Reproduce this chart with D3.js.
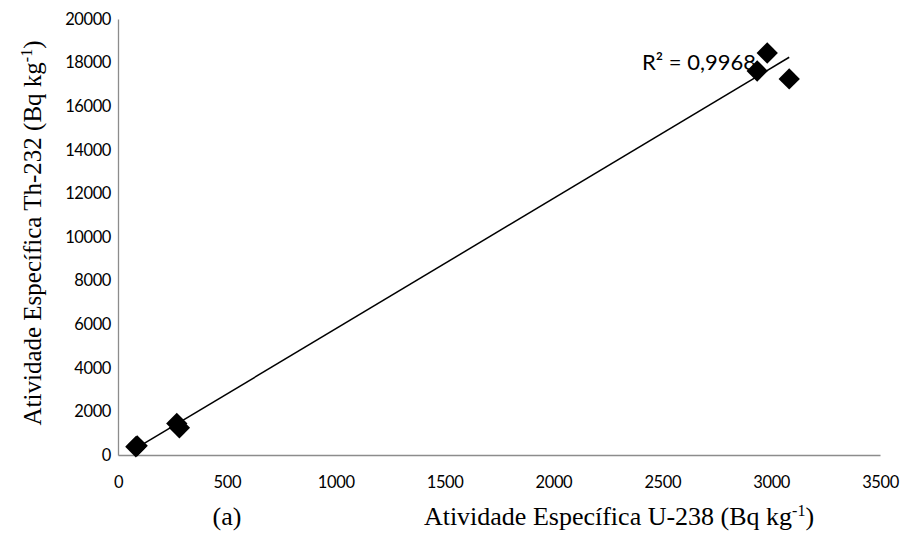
<!DOCTYPE html>
<html>
<head>
<meta charset="utf-8">
<script src="https://cdn.jsdelivr.net/npm/d3@7/dist/d3.min.js"></script>
<style>
  html, body { margin: 0; padding: 0; background: #fff; }
  svg { display: block; }
</style>
</head>
<body>
<svg id="chart" width="908" height="540"></svg>
<script>
// U-238 vs Th-232 specific activity (Bq/kg) per sample
const u238 = [82, 88, 270, 282, 2936, 2982, 3083];
const th232 = [380, 420, 1450, 1250, 17615, 18440, 17250];
const xTicks = [0, 500, 1000, 1500, 2000, 2500, 3000, 3500];
const yTicks = [0, 2000, 4000, 6000, 8000, 10000, 12000, 14000, 16000, 18000, 20000];
const r2Label = "R² = 0,9968";

const svg = d3.select("#chart");
const margin = { left: 118, right: 28, top: 19, bottom: 85 };
const W = 908, H = 540;

const x = d3.scaleLinear().domain([0, 3500]).range([margin.left, W - margin.right]);
const y = d3.scaleLinear().domain([0, 20000]).range([H - margin.bottom, margin.top]);

const tickFont = "Lato, 'Open Sans', sans-serif";
const serif = "'Liberation Serif', 'Times New Roman', serif";

// x axis
const gx = svg.append("g").attr("transform", `translate(0,${y(0)})`)
  .call(d3.axisBottom(x).tickValues(xTicks).tickSize(0).tickPadding(21).tickFormat(d3.format("d")));
gx.select(".domain").attr("stroke", "#8c8c8c").attr("stroke-width", 1.3);
gx.selectAll("text").attr("font-family", tickFont).attr("font-size", 16.5)
  .attr("letter-spacing", -0.4).attr("fill", "#000");

// y axis
const gy = svg.append("g").attr("transform", `translate(${x(0)},0)`)
  .call(d3.axisLeft(y).tickValues(yTicks).tickSize(0).tickPadding(7).tickFormat(d3.format("d")));
gy.select(".domain").attr("stroke", "#8c8c8c").attr("stroke-width", 1.3);
gy.selectAll("text").attr("font-family", tickFont).attr("font-size", 16.5)
  .attr("letter-spacing", -0.4).attr("fill", "#000");

// least-squares linear trendline across the data range
const n = u238.length;
const mx = d3.mean(u238), my = d3.mean(th232);
let sxy = 0, sxx = 0;
for (let i = 0; i < n; i++) { sxy += (u238[i] - mx) * (th232[i] - my); sxx += (u238[i] - mx) ** 2; }
const slope = sxy / sxx, icpt = my - slope * mx;
const x0 = d3.min(u238), x1 = d3.max(u238);
svg.append("line")
  .attr("x1", x(x0)).attr("y1", y(slope * x0 + icpt))
  .attr("x2", x(x1)).attr("y2", y(slope * x1 + icpt))
  .attr("stroke", "#000").attr("stroke-width", 1.5);

// diamond markers
const diamond = d3.symbol().type(d3.symbolDiamond2).size(290);
svg.append("g").selectAll("path")
  .data(u238.map((u, i) => [u, th232[i]]))
  .join("path")
  .attr("d", diamond)
  .attr("transform", d => `translate(${x(d[0])},${y(d[1])})`)
  .attr("fill", "#000");

// R² annotation
svg.append("text")
  .attr("x", 642).attr("y", 70)
  .attr("font-family", tickFont).attr("font-size", 22).attr("fill", "#000")
  .text(r2Label);

// axis titles
const xt = svg.append("text")
  .attr("x", 619).attr("y", 525).attr("text-anchor", "middle")
  .attr("font-family", serif).attr("font-size", 26).attr("fill", "#000");
xt.append("tspan").text("Atividade Específica U-238 (Bq kg");
xt.append("tspan").attr("dy", -9).attr("font-size", 16).text("-1");
xt.append("tspan").attr("dy", 9).text(")");

svg.append("text")
  .attr("x", 227).attr("y", 525).attr("text-anchor", "middle")
  .attr("font-family", serif).attr("font-size", 26).attr("fill", "#000")
  .text("(a)");

const yt = svg.append("text")
  .attr("transform", "translate(41,233) rotate(-90)")
  .attr("text-anchor", "middle")
  .attr("font-family", serif).attr("font-size", 25).attr("fill", "#000");
yt.append("tspan").text("Atividade Específica Th-232 (Bq kg");
yt.append("tspan").attr("dy", -9).attr("font-size", 16).text("-1");
yt.append("tspan").attr("dy", 9).text(")");
</script>
</body>
</html>
